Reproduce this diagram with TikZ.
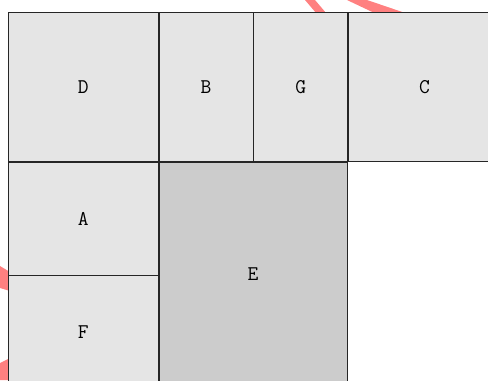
\documentclass[tikz,border=0pt]{standalone}
\usepackage{tikz}
\usepackage{xcolor}
\usetikzlibrary{positioning}
\definecolor{boxgray}{HTML}{E5E5E5}
\definecolor{egray}{HTML}{CCCCCC}
\definecolor{markred}{HTML}{FF8080}

\begin{document}
\begin{tikzpicture}[x=1bp,y=-1bp,
  box/.style={draw=black!85,line width=0.7pt,fill=boxgray,inner sep=0pt,
    font=\fontsize{21}{21}\selectfont\ttfamily},
  darkbox/.style={box,fill=egray}]
\useasboundingbox (0,0) rectangle (488,380);
\clip (0,0) rectangle (488,380);
% red marks behind the boxes
\fill[markred] (305,0) -- (315,0) -- (332,20) -- (322,20) -- cycle;
\fill[markred] (347,0) -- (367,0) -- (420,18) -- (385,18) -- cycle;
\fill[markred] (0,266) -- (10,272) -- (10,291) -- (0,288) -- cycle;
\fill[markred] (0,363) -- (10,358) -- (10,380) -- (0,380) -- cycle;
% top row
\node[box,minimum width=150bp,minimum height=149bp,anchor=north west] (d) at (8,12) {D};
\node[box,minimum width=94bp,minimum height=149bp,right=0pt of d] (b) {B};
\node[box,minimum width=94bp,minimum height=149bp,right=0pt of b] (g) {G};
\node[box,minimum width=152bp,minimum height=149bp,right=0pt of g] (c) {C};
% left column
\node[box,minimum width=150bp,minimum height=113bp,below=0pt of d] (a) {A};
\node[box,minimum width=150bp,minimum height=112bp,below=0pt of a] (f) {F};
% big box
\node[darkbox,minimum width=188bp,minimum height=224bp,below right=0pt and 0pt of d.south east] (e) {E};
\end{tikzpicture}
\end{document}
